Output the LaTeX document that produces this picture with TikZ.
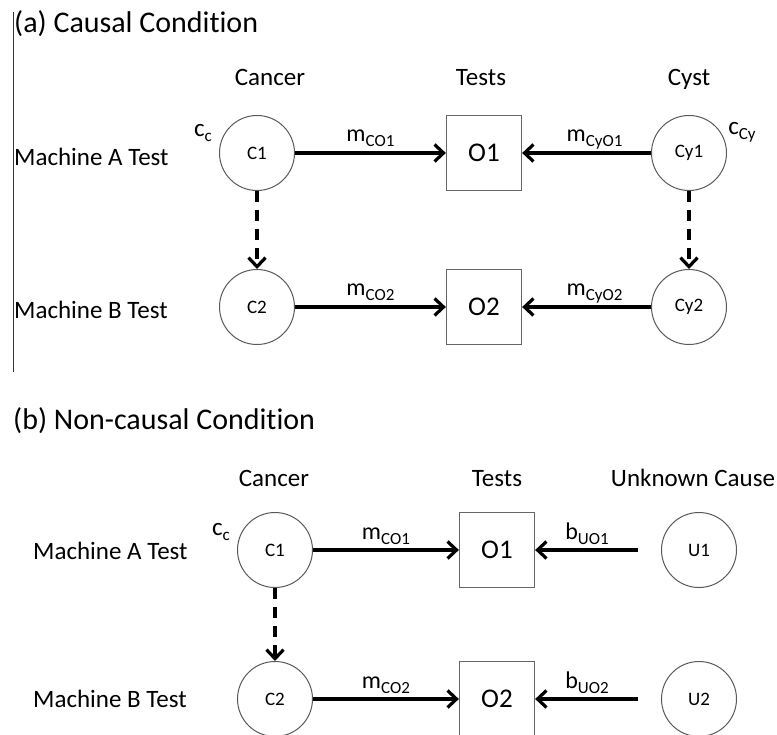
\documentclass[tikz,border=0pt]{standalone}
\usepackage{fontspec}
\setmainfont{Carlito}[Ligatures=NoCommon]
\usetikzlibrary{arrows.meta,positioning}

\newcommand{\lowidx}[1]{\raisebox{-5pt}{\fontsize{17}{17}\selectfont #1}}

\begin{document}
\begin{tikzpicture}[x=1pt, y=-1pt,
    var/.style={circle, draw=black!65, line width=1pt, minimum size=75pt, inner sep=0pt, font=\fontsize{19}{19}\selectfont},
    obs/.style={rectangle, draw=black!60, line width=1.3pt, minimum size=75pt, inner sep=0pt, font=\fontsize{27}{27}\selectfont},
    lbl/.style={font=\fontsize{25}{25}\selectfont, inner sep=0pt, anchor=base},
    ttl/.style={font=\fontsize{30}{30}\selectfont, anchor=base west, inner sep=0pt},
    edgelbl/.style={font=\fontsize{24}{24}\selectfont, inner sep=0pt, anchor=base, yshift=11pt},
    link/.style={-{Straight Barb[length=9pt,width=17pt]}, line width=3.2pt},
    carry/.style={link, dash pattern=on 11pt off 8pt},
]
\useasboundingbox (0,0) rectangle (777,735);
\clip (0,0) rectangle (777,735);

% (a) causal condition
\draw[black!80, line width=0.8pt] (13,12) -- (13,372);
\node[ttl] (ttla) at (14,33) {(a) Causal Condition};
\node[lbl] (hca) at (270,86) {Cancer};
\node[lbl] (hta) at (481,86) {Tests};
\node[lbl] (hya) at (689,86) {Cyst};
\node[lbl, anchor=base west] (rowaa) at (14,166) {Machine A Test};
\node[lbl, anchor=base west] (rowab) at (14,319) {Machine B Test};

\foreach \r/\y in {1/153, 2/307} {
    \node[var] (ca\r) at (257,\y) {C\r};
    \node[obs] (oa\r) at (484,\y) {O\r};
    \node[var] (ya\r) at (689,\y) {Cy\r};
    \draw[link] (ca\r) -- node[edgelbl] {m\lowidx{CO\r}} (oa\r);
    \draw[link] (ya\r) -- node[edgelbl, xshift=8pt] {m\lowidx{CyO\r}} (oa\r);
}
\node[lbl] (cca) at (203,137) {c\lowidx{c}};
\node[lbl] (ccya) at (742,135) {c\lowidx{Cy}};
\draw[carry] (ca1) -- (ca2);
\draw[carry] (ya1) -- (ya2);

% (b) non-causal condition
\node[ttl] (ttlb) at (13,429) {(b) Non-causal Condition};
\node[lbl] (hcb) at (274,486) {Cancer};
\node[lbl] (htb) at (497,486) {Tests};
\node[lbl] (hub) at (693,486) {Unknown Cause};
\node[lbl, anchor=base west] (rowba) at (33,559) {Machine A Test};
\node[lbl, anchor=base west] (rowbb) at (33,707) {Machine B Test};

\foreach \r/\y in {1/550, 2/699} {
    \node[var] (cb\r) at (275,\y) {C\r};
    \node[obs] (ob\r) at (497,\y) {O\r};
    \node[var] (ub\r) at (699,\y) {U\r};
    \draw[link] (cb\r) -- node[edgelbl] {m\lowidx{CO\r}} (ob\r);
    \draw[link, shorten <=23pt] (ub\r) -- node[edgelbl, xshift=-11pt] {b\lowidx{UO\r}} (ob\r);
}
\node[lbl] (ccb) at (221,535) {c\lowidx{c}};
\draw[carry] (cb1) -- (cb2);
\end{tikzpicture}
\end{document}
